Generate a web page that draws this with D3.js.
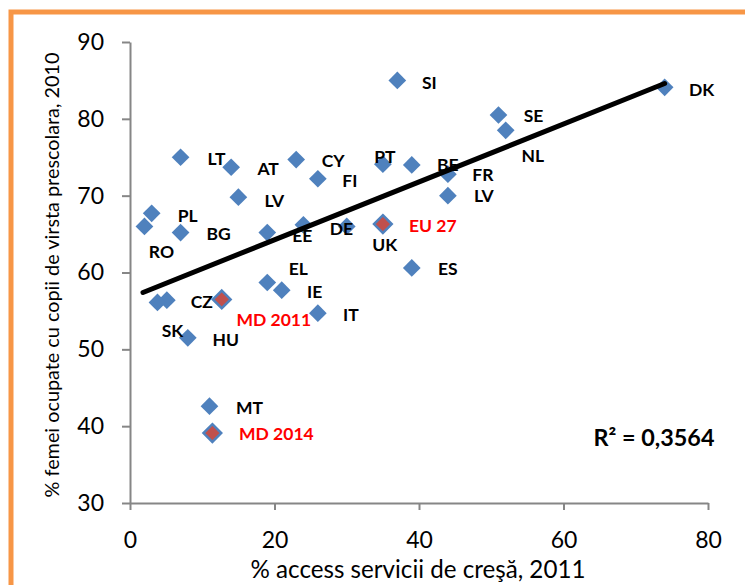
<!DOCTYPE html>
<html>
<head>
<meta charset="utf-8">
<script src="https://cdn.jsdelivr.net/npm/d3@7"></script>
<style>
  body { margin: 0; background: #fff; }
  svg { display: block; font-family: Lato, "Open Sans", sans-serif; }
</style>
</head>
<body>
<div id="chart"></div>
<script>
// Dati: paesi UE (blu)
const countries = ["DK","SI","SE","NL","LT","AT","CY","FI","PT","BE","FR","LV","LV","PL","RO","BG","EE","DE","UK","ES","EL","IE","IT","CZ","SK","HU","MT"];
const creseAccess = [74, 37, 51, 52, 7, 14, 23, 26, 35, 39, 44, 44, 15, 3, 2, 7, 19, 24, 30, 39, 19, 21, 26, 5.1, 3.8, 8, 11];
const femeiOcupate = [84.1, 85, 80.5, 78.5, 75, 73.7, 74.7, 72.2, 74.1, 74, 72.8, 70, 69.8, 67.7, 66, 65.2, 65.2, 66.2, 66, 60.6, 58.7, 57.7, 54.7, 56.4, 56.1, 51.5, 42.6];

// Dati: EU 27 e Moldova (rosso)
const mdLabels = ["EU 27", "MD 2011", "MD 2014"];
const mdAccess = [35, 12.7, 11.4];
const mdOcupate = [66.3, 56.5, 39.1];

// Linea di tendenza (estremi) e R²
const trendX = [1.8, 74];
const trendY = [57.4, 84.6];
const rSquared = "R² = 0,3564";

const xTicks = [0, 20, 40, 60, 80];
const yTicks = [30, 40, 50, 60, 70, 80, 90];

// spostamento etichette (px) rispetto al punto
const labelDx = [37, 32, 35, 27, 36, 37, 37, 32, 2, 36, 35, 36, 36, 36, 17, 38, 35, 38, 38, 36, 31, 33, 33, 35, 15, 38, 40];
const labelDy = [2, 2, 1, 25, 1, 1, 1, 2, -7, 0, 1, 0, 3, 2, 25, 1, 3, 4, 18, 1, -14, 2, 1, 2, 28, 2, 2];
const mdDx = [50, 52, 64];
const mdDy = [2, 20, 1];

const width = 745, height = 585;
const blue = "#4F81BD", red = "#C0504D", axisGrey = "#868686";

const svg = d3.select("#chart").append("svg")
    .attr("width", width)
    .attr("height", height);

// bordo arancione
svg.append("rect")
    .attr("x", 11).attr("y", 12)
    .attr("width", 760).attr("height", 600)
    .attr("fill", "#fff")
    .attr("stroke", "#F79646")
    .attr("stroke-width", 5);

const x = d3.scaleLinear().domain([0, 80]).range([130, 708]);
const y = d3.scaleLinear().domain([30, 90]).range([503, 42]);

// Assi
const yAxis = svg.append("g")
    .attr("transform", `translate(${x(0)},0)`)
    .call(d3.axisLeft(y).tickValues(yTicks).tickSize(8).tickSizeOuter(0).tickPadding(18));

const xAxis = svg.append("g")
    .attr("transform", `translate(0,${y(30)})`)
    .call(d3.axisBottom(x).tickValues(xTicks).tickSize(7).tickSizeOuter(0).tickPadding(22));

[xAxis, yAxis].forEach(a => {
    a.select(".domain").attr("stroke", axisGrey).attr("stroke-width", 2);
    a.selectAll(".tick line").attr("stroke", axisGrey).attr("stroke-width", 2);
    a.selectAll(".tick text")
        .attr("fill", "#000")
        .style("font-family", "Lato, sans-serif")
        .style("font-size", "23px");
});

// adatta la dimensione del font alla larghezza voluta
function fitWidth(sel, target) {
    const size = parseFloat(sel.style("font-size"));
    const len = sel.node().getComputedTextLength();
    sel.style("font-size", (size * target / len).toFixed(2) + "px");
}

// Titoli assi
svg.append("text")
    .attr("x", 418).attr("y", 578)
    .attr("text-anchor", "middle")
    .style("font-size", "20px")
    .text("% access servicii de creşă, 2011")
    .call(fitWidth, 335);

svg.append("text")
    .attr("transform", "translate(59,275) rotate(-90)")
    .attr("text-anchor", "middle")
    .style("font-size", "20px")
    .text("% femei ocupate cu copii de virsta prescolara, 2010")
    .call(fitWidth, 445);

// Punti UE
const euIdx = d3.range(countries.length);
const mdIdx = d3.range(mdLabels.length);
const diamond = d3.symbol().type(d3.symbolDiamond2).size(200);

svg.append("g")
    .selectAll("path")
    .data(euIdx)
    .join("path")
    .attr("d", diamond)
    .attr("transform", i => `translate(${x(creseAccess[i])},${y(femeiOcupate[i])})`)
    .attr("fill", blue);

svg.append("g")
    .selectAll("path")
    .data(mdIdx)
    .join("path")
    .attr("d", diamond)
    .attr("transform", i => `translate(${x(mdAccess[i])},${y(mdOcupate[i])})`)
    .attr("fill", red)
    .attr("stroke", blue)
    .attr("stroke-width", 2.5);

// Linea di tendenza
svg.append("line")
    .attr("x1", x(trendX[0])).attr("y1", y(trendY[0]))
    .attr("x2", x(trendX[1])).attr("y2", y(trendY[1]))
    .attr("stroke", "#000")
    .attr("stroke-width", 5)
    .attr("stroke-linecap", "round");

// Etichette
svg.append("g")
    .selectAll("text")
    .data(euIdx)
    .join("text")
    .attr("x", i => x(creseAccess[i]) + labelDx[i])
    .attr("y", i => y(femeiOcupate[i]) + labelDy[i])
    .attr("dy", "0.36em")
    .attr("text-anchor", "middle")
    .style("font-size", "17.5px")
    .style("font-weight", "bold")
    .text(i => countries[i]);

svg.append("g")
    .selectAll("text")
    .data(mdIdx)
    .join("text")
    .attr("x", i => x(mdAccess[i]) + mdDx[i])
    .attr("y", i => y(mdOcupate[i]) + mdDy[i])
    .attr("dy", "0.36em")
    .attr("text-anchor", "middle")
    .attr("fill", "#FF0000")
    .style("font-size", "17.5px")
    .style("font-weight", "bold")
    .text(i => mdLabels[i]);

svg.append("text")
    .attr("x", 654).attr("y", 438)
    .attr("dy", "0.36em")
    .attr("text-anchor", "middle")
    .style("font-size", "21px")
    .style("font-weight", "bold")
    .text(rSquared)
    .call(fitWidth, 121);
</script>
</body>
</html>
